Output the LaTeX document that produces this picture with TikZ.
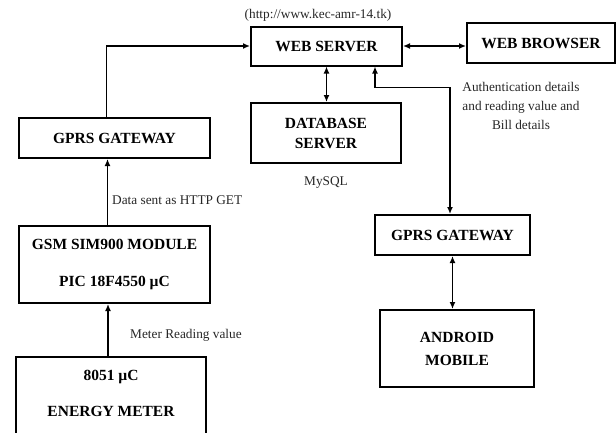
\documentclass[tikz,border=0pt]{standalone}
\usepackage{fontspec}
\setmainfont{Liberation Serif}
\usetikzlibrary{arrows.meta}
\tikzset{
  boxline/.style={draw=black, line width=2pt},
  blk/.style={boxline, align=center, inner sep=0pt, font=\fontsize{15.5}{18}\selectfont\bfseries},
  boxtext/.style={align=center, inner sep=0pt, font=\fontsize{15.5}{18}\selectfont\bfseries},
  note/.style={inner sep=0pt, align=center, text=black!85, font=\fontsize{13.3}{19}\selectfont},
  conn/.style={line width=1.8pt, -{Latex[length=7pt,width=6pt]}},
  dconn/.style={line width=1.8pt, {Latex[length=7pt,width=6pt]}-{Latex[length=7pt,width=6pt]}},
}
\begin{document}
\begin{tikzpicture}[x=1pt,y=-1pt]
\useasboundingbox (0,0) rectangle (616,432);
\clip (0,0) rectangle (616,432);
% boxes
\node[blk, minimum width=151, minimum height=39] (ws) at (326.5,46) {WEB SERVER};
\node[blk, minimum width=148, minimum height=40] (wb) at (541,43) {WEB BROWSER};
\node[blk, minimum width=150, minimum height=60] (db) at (326,133) {DATABASE\\[2pt]SERVER};
\node[blk, minimum width=191, minimum height=40] (gl) at (114.5,138) {GPRS GATEWAY};
\node[blk, minimum width=191, minimum height=77] (gsm) at (114.5,264.5) {GSM SIM900 MODULE\\[19pt]PIC 18F4550 µC};
\node[boxline, minimum width=190, minimum height=106, inner sep=0pt] (em) at (111,410) {};
\node[boxtext] (emt) at (111,393) {8051 µC\\[18pt]ENERGY METER};
\node[blk, minimum width=155, minimum height=40] (gr) at (452.5,235) {GPRS GATEWAY};
\node[blk, minimum width=154, minimum height=77] (and) at (457,348.5) {ANDROID\\[5pt]MOBILE};
% notes
\node[note] (url) at (318,15) {(http://www.kec-amr-14.tk)};
\node[note] (auth) at (521,106) {Authentication details\\and reading value and\\Bill details};
\node[note] (sql) at (326,183) {MySQL};
\node[note, anchor=west] (http) at (112,200) {Data sent as HTTP GET};
\node[note, anchor=west] (mrv) at (130,335) {Meter Reading value};
% connectors
\draw[conn] ([xshift=-8]gl.north) |- (ws.west);
\draw[conn] ([xshift=-7]gsm.north) -- ([xshift=-7]gl.south);
\draw[conn] ([xshift=-3]em.north) -- ([xshift=-6.5]gsm.south);
\draw[dconn] (ws.east) -- (ws.east -| wb.west);
\draw[dconn] (ws.south) -- (ws.south |- db.north);
\draw[dconn] ([xshift=48.5]ws.south) -- ++(0,21) -| ([xshift=-2.5]gr.north);
\draw[dconn] (gr.south) -- (gr.south |- and.north);
\end{tikzpicture}
\end{document}
